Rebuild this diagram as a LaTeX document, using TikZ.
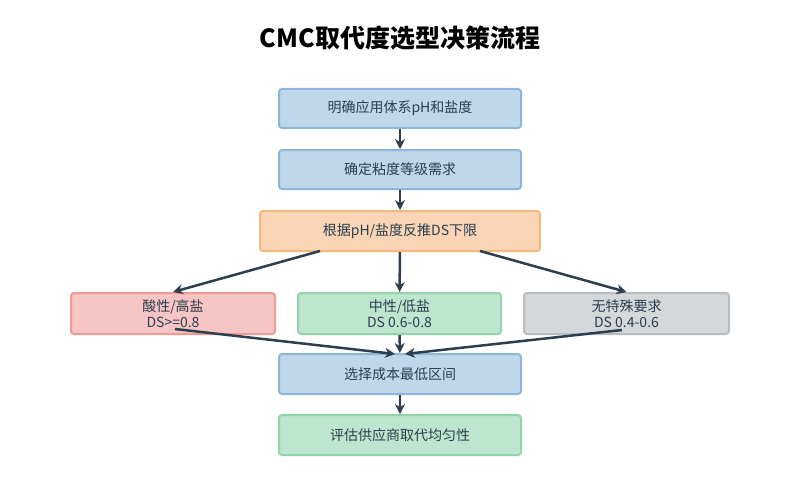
\documentclass[tikz,border=0pt]{standalone}
\usepackage{fontspec}
\setmainfont{Noto Sans CJK SC}
\usetikzlibrary{arrows.meta}
\definecolor{ink}{HTML}{2C3E50}
\begin{document}
\begin{tikzpicture}[x=1pt,y=-1pt,
  box/.style={draw,line width=2pt,rounded corners=3pt,align=center,font=\fontsize{14}{16}\selectfont,text=ink,inner sep=0pt},
  blue/.style={box,fill={rgb,255:red,191;green,215;blue,234},draw={rgb,255:red,141;green,182;blue,217}},
  orange/.style={box,fill={rgb,255:red,249;green,213;blue,181},draw={rgb,255:red,245;green,185;blue,126}},
  red/.style={box,fill={rgb,255:red,247;green,198;blue,196},draw={rgb,255:red,240;green,154;blue,150}},
  green/.style={box,fill={rgb,255:red,190;green,229;blue,205},draw={rgb,255:red,146;green,211;blue,169}},
  gray/.style={box,fill={rgb,255:red,213;green,216;blue,218},draw={rgb,255:red,185;green,189;blue,192}},
  arr/.style={draw=ink,line width=2.5pt,-{Stealth[length=10pt,width=10pt]}}]
\useasboundingbox (0,0) rectangle (800,500);
\node[font=\fontsize{25}{28}\selectfont\bfseries,text=black] (t) at (400,38) {CMC取代度选型决策流程};
\node[blue,minimum width=242pt,minimum height=39pt] (a) at (400,108.5) {明确应用体系pH和盐度};
\node[blue,minimum width=242pt,minimum height=39pt] (b) at (400,169.5) {确定粘度等级需求};
\node[orange,minimum width=280pt,minimum height=40pt] (c) at (400,231) {根据pH/盐度反推DS下限};
\node[red,minimum width=204pt,minimum height=41pt] (l) at (173,313.5) {酸性/高盐\\DS>=0.8};
\node[green,minimum width=203pt,minimum height=41pt] (m) at (399.5,313.5) {中性/低盐\\DS 0.6-0.8};
\node[gray,minimum width=205pt,minimum height=41pt] (r) at (626.5,313.5) {无特殊要求\\DS 0.4-0.6};
\node[blue,minimum width=242pt,minimum height=40pt] (e) at (400,374) {选择成本最低区间};
\node[green,minimum width=242pt,minimum height=40pt] (f) at (400,435) {评估供应商取代均匀性};
\coordinate (c1) at (320,251); \coordinate (c3) at (480,251);
\coordinate (l1) at (175,329); \coordinate (r1) at (622,330);
\coordinate (e1) at (395,354); \coordinate (e3) at (405,354);
\draw[arr] (a) -- (b);
\draw[arr] (b) -- (c);
\draw[arr] (c1) -- (l.north);
\draw[arr] (c) -- (m);
\draw[arr] (c3) -- (r.north);
\draw[arr] (l1) -- (e1);
\draw[arr] (m) -- (e);
\draw[arr] (r1) -- (e3);
\draw[arr] (e) -- (f);
\end{tikzpicture}
\end{document}
